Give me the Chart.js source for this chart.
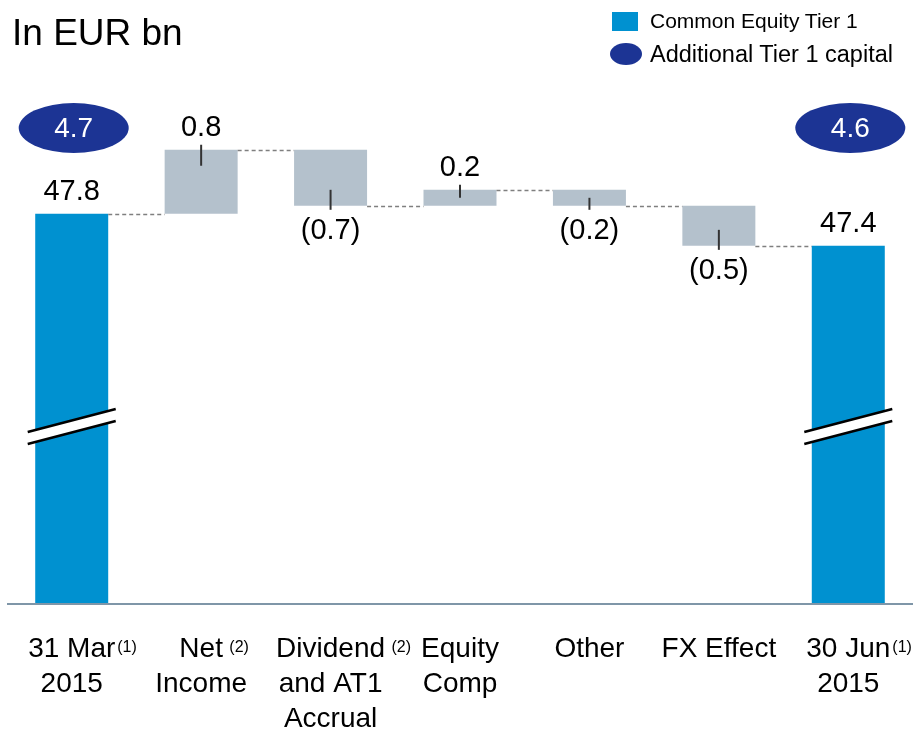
<!DOCTYPE html>
<html lang="en">
<head>
  <meta charset="UTF-8">
  <title>CET1 capital development</title>
  <script src="https://cdn.jsdelivr.net/npm/chart.js"></script>
  <style>
    body { margin: 0; background: #fff; font-family: "Liberation Sans", Arial, sans-serif; }
    #wrap { position: relative; width: 913px; height: 731px; }
    #title { position: absolute; left: 12px; top: 12px; font-size: 37px; color: #000; }
    .leg { position: absolute; left: 650px; font-size: 21px; color: #000; line-height: 24px; }
    .swatch { position: absolute; }
  </style>
</head>
<body>
  <div id="wrap">
    <canvas id="chart" width="913" height="731"></canvas>
    <div id="title">In EUR bn</div>
    <div class="swatch" style="left:612px;top:12px;width:26px;height:19px;background:#0091d0"></div>
    <div class="leg" style="top:9px">Common Equity Tier 1</div>
    <div class="swatch" style="left:610px;top:43px;width:32px;height:22px;border-radius:50%;background:#1c3494"></div>
    <div class="leg" style="top:41px;font-size:23.5px;line-height:26px">Additional Tier 1 capital</div>
  </div>
  <script>
    // data
    const categories = [['31 Mar', '2015'], ['Net', 'Income'], ['Dividend', 'and AT1', 'Accrual'],
      ['Equity', 'Comp'], ['Other'], ['FX Effect'], ['30 Jun', '2015']];
    const footnotes = ['(1)', ' (2)', ' (2)', '', '', '', '(1)'];
    const cet1Totals = [47.8, null, null, null, null, null, 47.4];
    const changes = [null, 0.8, -0.7, 0.2, -0.2, -0.5, null];
    const at1Capital = [4.7, null, null, null, null, null, 4.6];
    const valueLabels = ['47.8', '0.8', '(0.7)', '0.2', '(0.2)', '(0.5)', '47.4'];

    const yAxisMin = 42.94;
    const yAxisMax = 50.47;

    const BLUE = '#0091d0', GREY = '#b4c1cc', NAVY = '#1c3494';

    // running levels for the waterfall
    let level = 0;
    const totalBars = [], changeBars = [], levelAfter = [];
    for (let i = 0; i < categories.length; i++) {
      if (cet1Totals[i] !== null) {
        level = cet1Totals[i];
        totalBars.push([yAxisMin, level]);
        changeBars.push(null);
      } else {
        const start = level;
        level = +(level + changes[i]).toFixed(2);
        changeBars.push([start, level]);
        totalBars.push(null);
      }
      levelAfter.push(level);
    }

    function barAt(chart, i) {
      const ds = cet1Totals[i] !== null ? 0 : 1;
      const b = chart.getDatasetMeta(ds).data[i];
      return {
        x: b.x, w: b.width,
        top: Math.min(b.y, b.base), bottom: Math.max(b.y, b.base)
      };
    }

    const decorations = {
      id: 'decorations',
      afterDraw(chart) {
        const ctx = chart.ctx;
        const area = chart.chartArea;
        const y = chart.scales.y;
        const n = categories.length;
        ctx.save();

        // dashed connectors
        ctx.strokeStyle = '#7f7f7f';
        ctx.lineWidth = 1.5;
        ctx.setLineDash([4, 3]);
        for (let i = 0; i < n - 1; i++) {
          const a = barAt(chart, i), b = barAt(chart, i + 1);
          const py = Math.round(y.getPixelForValue(levelAfter[i])) + 0.5;
          ctx.beginPath();
          ctx.moveTo(a.x + a.w / 2, py);
          ctx.lineTo(b.x - b.w / 2, py);
          ctx.stroke();
        }
        ctx.setLineDash([]);

        // leader ticks on change bars
        ctx.strokeStyle = '#333';
        ctx.lineWidth = 2;
        for (let i = 0; i < n; i++) {
          if (changes[i] === null) continue;
          const b = barAt(chart, i);
          const h = b.bottom - b.top;
          const inner = Math.min(16, h * 0.5);
          ctx.beginPath();
          if (changes[i] > 0) {
            ctx.moveTo(b.x, b.top - 5);
            ctx.lineTo(b.x, b.top + inner);
          } else {
            ctx.moveTo(b.x, b.bottom - inner);
            ctx.lineTo(b.x, b.bottom + 4);
          }
          ctx.stroke();
        }

        // value labels
        ctx.fillStyle = '#000';
        ctx.font = '29px "Liberation Sans", Arial, sans-serif';
        ctx.textAlign = 'center';
        ctx.textBaseline = 'middle';
        for (let i = 0; i < n; i++) {
          const b = barAt(chart, i);
          const neg = changes[i] !== null && changes[i] < 0;
          ctx.fillText(valueLabels[i], b.x, neg ? b.bottom + 25 : b.top - 22);
        }

        // axis break marks on total bars
        for (let i = 0; i < n; i++) {
          if (cet1Totals[i] === null) continue;
          const b = barAt(chart, i);
          const yc = area.bottom - 176;
          const x1 = b.x - 44, x2 = b.x + 44;
          ctx.fillStyle = '#fff';
          ctx.beginPath();
          ctx.moveTo(x1, yc + 5);
          ctx.lineTo(x2, yc - 18);
          ctx.lineTo(x2, yc - 6);
          ctx.lineTo(x1, yc + 17);
          ctx.closePath();
          ctx.fill();
          ctx.strokeStyle = '#000';
          ctx.lineWidth = 2.5;
          ctx.beginPath();
          ctx.moveTo(x1, yc + 5); ctx.lineTo(x2, yc - 18);
          ctx.moveTo(x1, yc + 17); ctx.lineTo(x2, yc - 6);
          ctx.stroke();
        }

        // AT1 ellipses
        for (let i = 0; i < n; i++) {
          if (at1Capital[i] === null) continue;
          const b = barAt(chart, i);
          ctx.fillStyle = NAVY;
          ctx.beginPath();
          ctx.ellipse(b.x + 2, 128, 55, 25, 0, 0, Math.PI * 2);
          ctx.fill();
          ctx.fillStyle = '#fff';
          ctx.font = '28px "Liberation Sans", Arial, sans-serif';
          ctx.fillText(at1Capital[i].toFixed(1), b.x + 2, 129);
        }

        // baseline
        ctx.strokeStyle = '#7f96a8';
        ctx.lineWidth = 2;
        ctx.beginPath();
        ctx.moveTo(area.left, area.bottom + 1);
        ctx.lineTo(area.right, area.bottom + 1);
        ctx.stroke();

        // category labels
        ctx.fillStyle = '#000';
        ctx.textBaseline = 'alphabetic';
        const x = chart.scales.x;
        for (let i = 0; i < n; i++) {
          const cx = x.getPixelForValue(i);
          categories[i].forEach((line, k) => {
            ctx.font = '28px "Liberation Sans", Arial, sans-serif';
            ctx.textAlign = 'center';
            const by = area.bottom + 54 + k * 35;
            ctx.fillText(line, cx, by);
            if (k === 0 && footnotes[i]) {
              const w = ctx.measureText(line).width;
              ctx.font = '16px "Liberation Sans", Arial, sans-serif';
              ctx.textAlign = 'left';
              ctx.fillText(footnotes[i], cx + w / 2 + 2, by - 5);
            }
          });
        }
        ctx.restore();
      }
    };

    new Chart(document.getElementById('chart'), {
      type: 'bar',
      data: {
        labels: categories.map(c => c.join(' ')),
        datasets: [
          { label: 'Common Equity Tier 1', data: totalBars, backgroundColor: BLUE, grouped: false },
          { label: 'Change', data: changeBars, backgroundColor: GREY, grouped: false }
        ]
      },
      options: {
        responsive: false,
        animation: false,
        layout: { padding: { left: 7, right: 0, top: 0, bottom: 128 } },
        datasets: { bar: { barPercentage: 1, categoryPercentage: 0.564 } },
        plugins: { legend: { display: false }, tooltip: { enabled: false } },
        scales: {
          x: { display: false },
          y: { display: false, min: yAxisMin, max: yAxisMax }
        }
      },
      plugins: [decorations]
    });
  </script>
</body>
</html>
